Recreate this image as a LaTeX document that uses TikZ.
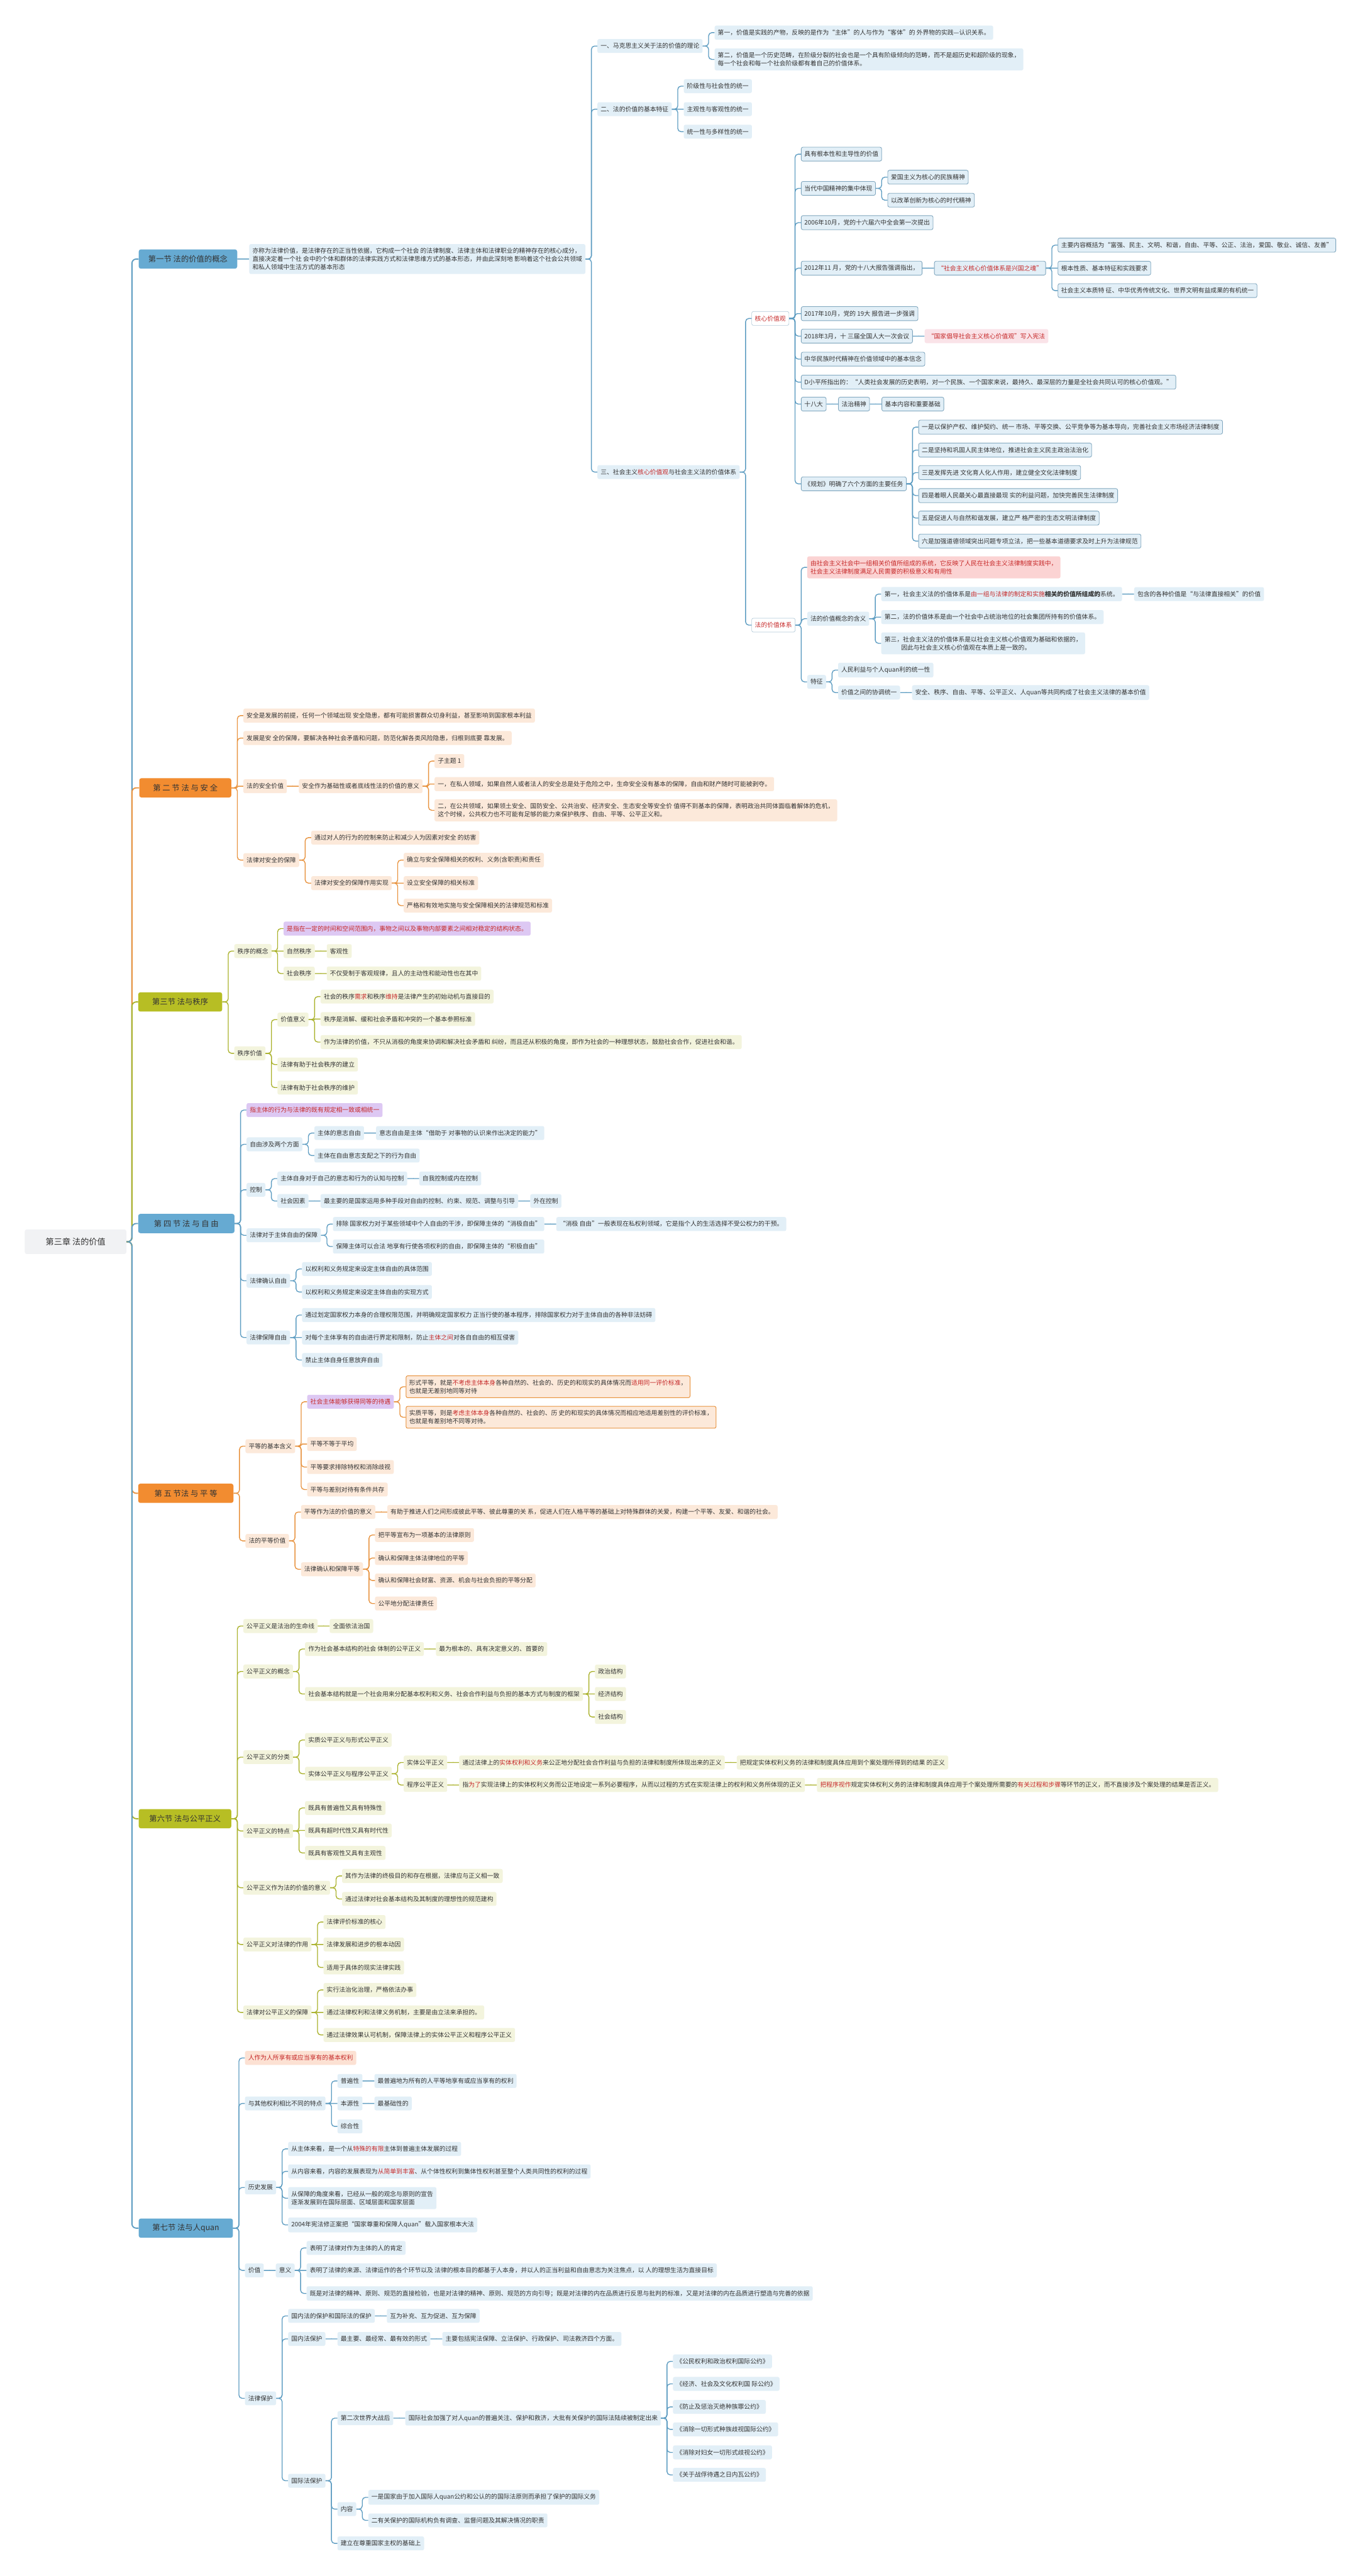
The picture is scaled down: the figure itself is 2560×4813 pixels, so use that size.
\documentclass[tikz,border=0pt]{standalone}
\usepackage{fontspec}
\setmainfont{Noto Sans CJK SC}
\usetikzlibrary{positioning,calc}
\definecolor{Ink}{HTML}{333333}
\definecolor{Alert}{HTML}{C62828}
\definecolor{SkyLine}{HTML}{5E9DC2}
\definecolor{SkyFill}{HTML}{E2EFF7}
\definecolor{SkyHead}{HTML}{66AAD2}
\definecolor{SkyRim}{HTML}{7FA6BE}
\definecolor{OrangeLine}{HTML}{E8933F}
\definecolor{OrangeFill}{HTML}{FCE9DA}
\definecolor{OrangeHead}{HTML}{F28C30}
\definecolor{GroveLine}{HTML}{AAB22C}
\definecolor{GroveFill}{HTML}{F3F4DD}
\definecolor{GroveHead}{HTML}{B7BE24}
\definecolor{Lilac}{HTML}{DDC8F3}
\definecolor{Blush}{HTML}{FBD3D3}
\definecolor{Peachy}{HTML}{FCE1D3}
\definecolor{PinkFill}{HTML}{FAE3E8}
\definecolor{RootFill}{HTML}{F1F2F4}
\newcommand\nfont{\fontsize{8.2pt}{10.67pt}\selectfont}
\newcommand\hfont{\fontsize{10.3pt}{12pt}\selectfont}
\newcommand\rfont{\fontsize{11pt}{13pt}\selectfont}
\newcommand\red[1]{\textcolor{Alert}{#1}}
% child node: style, parent, name, y, text
\newcommand\kid[5][skybox]{\node[#1,anchor=west,xshift=5.5mm] (#3) at (#2.east |- 0,#4) {#5};}
% elbow links from a parent to its children (straight when level)
\newcommand\lk[3]{\foreach \kidname in {#3}{\draw[branch,draw=#1] let \p1=(#2.east), \p2=(\kidname.west),
  \n1={min(1.5mm,abs(\y2-\y1)/2)+0.01pt} in [rounded corners=\n1] (\p1) -- ++(2.75mm,0) |- (\p2);}}
\tikzset{
  nbox/.style={rounded corners=0.8mm,inner xsep=1.5mm,inner ysep=1.9mm,
    minimum height=6.25mm,align=left,font=\nfont,text=Ink},
  skybox/.style={nbox,fill=SkyFill},
  skyrim/.style={nbox,fill=SkyFill,draw=SkyRim,line width=0.25mm},
  orangebox/.style={nbox,fill=OrangeFill},
  orangerim/.style={nbox,fill=OrangeFill,draw=OrangeLine,line width=0.3mm},
  grovebox/.style={nbox,fill=GroveFill},
  lilacbox/.style={nbox,fill=Lilac,text=Alert},
  blushbox/.style={nbox,fill=Blush,text=Alert},
  peachbox/.style={nbox,fill=Peachy,text=Alert},
  pinkbox/.style={nbox,fill=PinkFill,text=Alert},
  keybox/.style={nbox,fill=white,draw=SkyRim!60,line width=0.2mm,text=Alert},
  headbox/.style={rounded corners=1mm,minimum height=9mm,font=\hfont,text=Ink,
    inner xsep=2mm,anchor=west},
  rootbox/.style={rounded corners=1mm,minimum height=11.5mm,minimum width=47.5mm,
    font=\rfont,text=Ink,fill=RootFill,anchor=west},
  branch/.style={line width=0.4mm},
  trunk/.style={line width=0.55mm,rounded corners=2mm}
}
\begin{document}
\begin{tikzpicture}[x=0.25mm,y=-0.25mm]
\useasboundingbox (0,0) rectangle (2560,4813);
\fill[white] (0,0) rectangle (2560,4813);
\node[rootbox] (root) at (46,2320) {第三章 法的价值};
\node[headbox,fill=SkyHead,minimum width=46mm] (s1) at (259,484) {第一节 法的价值的概念};
\node[headbox,fill=OrangeHead,minimum width=43mm] (s2) at (260,1472) {第 二 节 法 与 安 全};
\node[headbox,fill=GroveHead,minimum width=39.25mm] (s3) at (258,1872) {第三节 法与秩序};
\node[headbox,fill=SkyHead,minimum width=45mm] (s4) at (258,2286) {第 四 节 法 与 自 由};
\node[headbox,fill=OrangeHead,minimum width=44.5mm] (s5) at (258,2790) {第 五 节法 与 平 等};
\node[headbox,fill=GroveHead,minimum width=43.25mm] (s6) at (259,3398) {第六节 法与公平正义};
\node[headbox,fill=SkyHead,minimum width=44mm] (s7) at (259,4163) {第七节 法与人quan};
\foreach \s/\c in {s1/SkyLine,s2/OrangeLine,s3/GroveLine,s4/SkyLine,s5/OrangeLine,s6/GroveLine,s7/SkyLine}
  \draw[trunk,draw=\c] (root.east) -- ++(2.5mm,0) |- (\s.west);

% section 1
\kid[skybox]{s1}{s1d}{484}{亦称为法律价值，是法律存在的正当性依据，它构成一个社会 的法律制度、法律主体和法律职业的精神存在的核心成分，\\直接决定着一个社 会中的个体和群体的法律实践方式和法律思维方式的基本形态，并由此深刻地 影响着这个社会公共领域\\和私人领域中生活方式的基本形态}
\kid[skybox]{s1d}{s1a}{86}{一、马克思主义关于法的价值的理论}
\kid[skybox]{s1d}{s1b}{204}{二、法的价值的基本特征}
\kid[skybox]{s1d}{s1c}{882}{三、社会主义\red{核心价值观}与社会主义法的价值体系}
\kid[skybox]{s1a}{s1a1}{61}{第一，价值是实践的产物，反映的是作为“主体”的人与作为“客体”的 外界物的实践—认识关系。}
\kid[skybox]{s1a}{s1a2}{111}{第二，价值是一个历史范畴，在阶级分裂的社会也是一个具有阶级倾向的范畴，而不是超历史和超阶级的现象，\\每一个社会和每一个社会阶级都有着自己的价值体系。}
\kid[skybox]{s1b}{s1b1}{161}{阶级性与社会性的统一}
\kid[skybox]{s1b}{s1b2}{204}{主观性与客观性的统一}
\kid[skybox]{s1b}{s1b3}{246}{统一性与多样性的统一}
\kid[keybox]{s1c}{core}{595}{核心价值观}
\kid[keybox]{s1c}{sys}{1168}{法的价值体系}
\kid[skyrim]{core}{c1}{288}{具有根本性和主导性的价值}
\kid[skyrim]{core}{c2}{352}{当代中国精神的集中体现}
\kid[skyrim]{c2}{c2a}{331}{爱国主义为核心的民族精神}
\kid[skyrim]{c2}{c2b}{374}{以改革创新为核心的时代精神}
\kid[skyrim]{core}{c3}{416}{2006年10月，党的十六届六中全会第一次提出}
\kid[skyrim]{core}{c4}{501}{2012年11 月，党的十八大报告强调指出，}
\kid[skyrim,text=Alert]{c4}{c4a}{501}{“社会主义核心价值体系是兴国之魂”}
\kid[skyrim]{c4a}{c4a1}{458}{主要内容概括为“富强、民主、文明、和谐，自由、平等、公正、法治，爱国、敬业、诚信、友善”}
\kid[skyrim]{c4a}{c4a2}{501}{根本性质、基本特征和实践要求}
\kid[skyrim]{c4a}{c4a3}{543}{社会主义本质特 征、中华优秀传统文化、世界文明有益成果的有机统一}
\kid[skyrim]{core}{c5}{586}{2017年10月，党的 19大 报告进一步强调}
\kid[skyrim]{core}{c6}{628}{2018年3月，十 三届全国人大一次会议}
\kid[pinkbox]{c6}{c6a}{628}{“国家倡导社会主义核心价值观”写入宪法}
\kid[skyrim]{core}{c7}{671}{中华民族时代精神在价值领域中的基本信念}
\kid[skyrim]{core}{c8}{714}{D小平所指出的：“人类社会发展的历史表明，对一个民族、一个国家来说，最持久、最深层的力量是全社会共同认可的核心价值观。”}
\kid[skyrim]{core}{c9}{755}{十八大}
\kid[skyrim]{c9}{c9a}{755}{法治精神}
\kid[skyrim]{c9a}{c9b}{755}{基本内容和重要基础}
\kid[skyrim]{core}{c10}{904}{《规划》明确了六个方面的主要任务}
\kid[skyrim]{c10}{c10a}{798}{一是以保护产权、维护契约、统一 市场、平等交换、公平竞争等为基本导向，完善社会主义市场经济法律制度}
\kid[skyrim]{c10}{c10b}{841}{二是坚持和巩固人民主体地位，推进社会主义民主政治法治化}
\kid[skyrim]{c10}{c10c}{883}{三是发挥先进 文化育人化人作用，建立健全文化法律制度}
\kid[skyrim]{c10}{c10d}{926}{四是着眼人民最关心最直接最现 实的利益问题，加快完善民生法律制度}
\kid[skyrim]{c10}{c10e}{968}{五是促进人与自然和谐发展，建立严 格严密的生态文明法律制度}
\kid[skyrim]{c10}{c10f}{1011}{六是加强道德领域突出问题专项立法，把一些基本道德要求及时上升为法律规范}
\kid[blushbox]{sys}{p1}{1060}{由社会主义社会中一组相关价值所组成的系统，它反映了人民在社会主义法律制度实践中，\\社会主义法律制度满足人民需要的积极意义和有用性}
\kid[skybox]{sys}{p2}{1156}{法的价值概念的含义}
\kid[skybox]{p2}{p2a}{1110}{第一，社会主义法的价值体系是\red{由一组与法律的制定和实施}\textbf{相关的价值所组成的}系统。}
\kid[skybox]{p2a}{p2a1}{1110}{包含的各种价值是“与法律直接相关”的价值}
\kid[skybox]{p2}{p2b}{1153}{第二，法的价值体系是由一个社会中占统治地位的社会集团所持有的价值体系。}
\kid[skybox]{p2}{p2c}{1202}{第三，社会主义法的价值体系是以社会主义核心价值观为基础和依据的，\\\hspace*{2.7em}因此与社会主义核心价值观在本质上是一致的。}
\kid[skybox]{sys}{p3}{1274}{特征}
\kid[skybox]{p3}{p3a}{1252}{人民利益与个人quan利的统一性}
\kid[skybox]{p3}{p3b}{1294}{价值之间的协调统一}
\kid[skybox]{p3b}{p3b1}{1294}{安全、秩序、自由、平等、公平正义、人quan等共同构成了社会主义法律的基本价值}
\lk{SkyLine}{s1}{s1d}
\lk{SkyLine}{s1d}{s1a,s1b,s1c}
\lk{SkyLine}{s1a}{s1a1,s1a2}
\lk{SkyLine}{s1b}{s1b1,s1b2,s1b3}
\lk{SkyLine}{s1c}{core,sys}
\lk{SkyLine}{core}{c1,c2,c3,c4,c5,c6,c7,c8,c9,c10}
\lk{SkyLine}{c2}{c2a,c2b}
\lk{SkyLine}{c4}{c4a}
\lk{SkyLine}{c4a}{c4a1,c4a2,c4a3}
\lk{SkyLine}{c6}{c6a}
\lk{SkyLine}{c9}{c9a}
\lk{SkyLine}{c9a}{c9b}
\lk{SkyLine}{c10}{c10a,c10b,c10c,c10d,c10e,c10f}
\lk{SkyLine}{sys}{p1,p2,p3}
\lk{SkyLine}{p2}{p2a,p2b,p2c}
\lk{SkyLine}{p2a}{p2a1}
\lk{SkyLine}{p3}{p3a,p3b}
\lk{SkyLine}{p3b}{p3b1}

% section 2
\kid[orangebox]{s2}{a1}{1337}{安全是发展的前提，任何一个领域出现 安全隐患，都有可能损害群众切身利益，甚至影响到国家根本利益}
\kid[orangebox]{s2}{a2}{1379}{发展是安 全的保障，要解决各种社会矛盾和问题，防范化解各类风险隐患，归根到底要 靠发展。}
\kid[orangebox]{s2}{a3}{1469}{法的安全价值}
\kid[orangebox]{a3}{a3a}{1469}{安全作为基础性或者底线性法的价值的意义}
\kid[orangebox]{a3a}{a3a1}{1422}{子主题 1}
\kid[orangebox]{a3a}{a3a2}{1465}{一，在私人领域，如果自然人或者法人的安全总是处于危险之中，生命安全没有基本的保障，自由和财产随时可能被剥夺。}
\kid[orangebox]{a3a}{a3a3}{1514}{二，在公共领域，如果领土安全、国防安全、公共治安、经济安全、生态安全等安全价 值得不到基本的保障，表明政治共同体面临着解体的危机，\\这个时候，公共权力也不可能有足够的能力来保护秩序、自由、平等、公平正义和。}
\kid[orangebox]{s2}{a4}{1607}{法律对安全的保障}
\kid[orangebox]{a4}{a4a}{1565}{通过对人的行为的控制来防止和减少人为因素对安全 的妨害}
\kid[orangebox]{a4}{a4b}{1650}{法律对安全的保障作用实现}
\kid[orangebox]{a4b}{a4b1}{1607}{确立与安全保障相关的权利、义务(含职责)和责任}
\kid[orangebox]{a4b}{a4b2}{1650}{设立安全保障的相关标准}
\kid[orangebox]{a4b}{a4b3}{1692}{严格和有效地实施与安全保障相关的法律规范和标准}
\lk{OrangeLine}{s2}{a1,a2,a3,a4}
\lk{OrangeLine}{a3}{a3a}
\lk{OrangeLine}{a3a}{a3a1,a3a2,a3a3}
\lk{OrangeLine}{a4}{a4a,a4b}
\lk{OrangeLine}{a4b}{a4b1,a4b2,a4b3}

% section 3
\kid[grovebox]{s3}{q1}{1777}{秩序的概念}
\kid[lilacbox]{q1}{q1a}{1735}{是指在一定的时间和空间范围内，事物之间以及事物内部要素之间相对稳定的结构状态。}
\kid[grovebox]{q1}{q1b}{1777}{自然秩序}
\kid[grovebox]{q1b}{q1b1}{1777}{客观性}
\kid[grovebox]{q1}{q1c}{1819}{社会秩序}
\kid[grovebox]{q1c}{q1c1}{1819}{不仅受制于客观规律，且人的主动性和能动性也在其中}
\kid[grovebox]{s3}{q2}{1968}{秩序价值}
\kid[grovebox]{q2}{q2a}{1905}{价值意义}
\kid[grovebox]{q2a}{q2a1}{1862}{社会的秩序\red{需求}和秩序\red{维持}是法律产生的初始动机与直接目的}
\kid[grovebox]{q2a}{q2a2}{1904}{秩序是消解、缓和社会矛盾和冲突的一个基本参照标准}
\kid[grovebox]{q2a}{q2a3}{1947}{作为法律的价值，不只从消极的角度来协调和解决社会矛盾和 纠纷，而且还从积极的角度，即作为社会的一种理想状态，鼓励社会合作，促进社会和谐。}
\kid[grovebox]{q2}{q2b}{1989}{法律有助于社会秩序的建立}
\kid[grovebox]{q2}{q2c}{2032}{法律有助于社会秩序的维护}
\lk{GroveLine}{s3}{q1,q2}
\lk{GroveLine}{q1}{q1a,q1b,q1c}
\lk{GroveLine}{q1b}{q1b1}
\lk{GroveLine}{q1c}{q1c1}
\lk{GroveLine}{q2}{q2a,q2b,q2c}
\lk{GroveLine}{q2a}{q2a1,q2a2,q2a3}

% section 4
\kid[lilacbox]{s4}{f1}{2074}{指主体的行为与法律的既有规定相一致或相统一}
\kid[skybox]{s4}{f2}{2138}{自由涉及两个方面}
\kid[skybox]{f2}{f2a}{2117}{主体的意志自由}
\kid[skybox]{f2a}{f2a1}{2117}{意志自由是主体“借助于 对事物的认识来作出决定的能力”}
\kid[skybox]{f2}{f2b}{2159}{主体在自由意志支配之下的行为自由}
\kid[skybox]{s4}{f3}{2223}{控制}
\kid[skybox]{f3}{f3a}{2202}{主体自身对于自己的意志和行为的认知与控制}
\kid[skybox]{f3a}{f3a1}{2202}{自我控制或内在控制}
\kid[skybox]{f3}{f3b}{2244}{社会因素}
\kid[skybox]{f3b}{f3b1}{2244}{最主要的是国家运用多种手段对自由的控制、约束、规范、调整与引导}
\kid[skybox]{f3b1}{f3b2}{2244}{外在控制}
\kid[skybox]{s4}{f4}{2308}{法律对于主体自由的保障}
\kid[skybox]{f4}{f4a}{2287}{排除 国家权力对于某些领域中个人自由的干涉，即保障主体的“消极自由”}
\kid[skybox]{f4a}{f4a1}{2287}{“消极 自由”一般表现在私权利领域，它是指个人的生活选择不受公权力的干预。}
\kid[skybox]{f4}{f4b}{2329}{保障主体可以合法 地享有行使各项权利的自由，即保障主体的“积极自由”}
\kid[skybox]{s4}{f5}{2393}{法律确认自由}
\kid[skybox]{f5}{f5a}{2371}{以权利和义务规定来设定主体自由的具体范围}
\kid[skybox]{f5}{f5b}{2414}{以权利和义务规定来设定主体自由的实现方式}
\kid[skybox]{s4}{f6}{2499}{法律保障自由}
\kid[skybox]{f6}{f6a}{2457}{通过划定国家权力本身的合理权限范围，并明确规定国家权力 正当行使的基本程序，排除国家权力对于主体自由的各种非法妨碍}
\kid[skybox]{f6}{f6b}{2499}{对每个主体享有的自由进行界定和限制，防止\red{主体之间}对各自自由的相互侵害}
\kid[skybox]{f6}{f6c}{2541}{禁止主体自身任意放弃自由}
\lk{SkyLine}{s4}{f1,f2,f3,f4,f5,f6}
\lk{SkyLine}{f2}{f2a,f2b}
\lk{SkyLine}{f2a}{f2a1}
\lk{SkyLine}{f3}{f3a,f3b}
\lk{SkyLine}{f3a}{f3a1}
\lk{SkyLine}{f3b}{f3b1}
\lk{SkyLine}{f3b1}{f3b2}
\lk{SkyLine}{f4}{f4a,f4b}
\lk{SkyLine}{f4a}{f4a1}
\lk{SkyLine}{f5}{f5a,f5b}
\lk{SkyLine}{f6}{f6a,f6b,f6c}

% section 5
\kid[orangebox]{s5}{e1}{2702}{平等的基本含义}
\kid[lilacbox]{e1}{e1a}{2619}{社会主体能够获得同等的待遇}
\kid[orangerim]{e1a}{e1a1}{2591}{形式平等，就是\red{不考虑主体本身}各种自然的、社会的、历史的和现实的具体情况而\red{适用同一评价标准}，\\也就是无差别地同等对待}
\kid[orangerim]{e1a}{e1a2}{2648}{实质平等，则是\red{考虑主体本身}各种自然的、社会的、历 史的和现实的具体情况而相应地适用差别性的评价标准，\\也就是有差别地不同等对待。}
\kid[orangebox]{e1}{e1b}{2698}{平等不等于平均}
\kid[orangebox]{e1}{e1c}{2741}{平等要求排除特权和消除歧视}
\kid[orangebox]{e1}{e1d}{2783}{平等与差别对待有条件共存}
\kid[orangebox]{s5}{e2}{2879}{法的平等价值}
\kid[orangebox]{e2}{e2a}{2825}{平等作为法的价值的意义}
\kid[orangebox]{e2a}{e2a1}{2825}{有助于推进人们之间形成彼此平等、彼此尊重的关 系，促进人们在人格平等的基础上对特殊群体的关爱，构建一个平等、友爱、和谐的社会。}
\kid[orangebox]{e2}{e2b}{2932}{法律确认和保障平等}
\kid[orangebox]{e2b}{e2b1}{2868}{把平等宣布为一项基本的法律原则}
\kid[orangebox]{e2b}{e2b2}{2911}{确认和保障主体法律地位的平等}
\kid[orangebox]{e2b}{e2b3}{2953}{确认和保障社会财富、资源、机会与社会负担的平等分配}
\kid[orangebox]{e2b}{e2b4}{2996}{公平地分配法律责任}
\lk{OrangeLine}{s5}{e1,e2}
\lk{OrangeLine}{e1}{e1a,e1b,e1c,e1d}
\lk{OrangeLine}{e1a}{e1a1,e1a2}
\lk{OrangeLine}{e2}{e2a,e2b}
\lk{OrangeLine}{e2a}{e2a1}
\lk{OrangeLine}{e2b}{e2b1,e2b2,e2b3,e2b4}

% section 6
\kid[grovebox]{s6}{j1}{3038}{公平正义是法治的生命线}
\kid[grovebox]{j1}{j1a}{3038}{全面依法治国}
\kid[grovebox]{s6}{j2}{3123}{公平正义的概念}
\kid[grovebox]{j2}{j2a}{3081}{作为社会基本结构的社会 体制的公平正义}
\kid[grovebox]{j2a}{j2a1}{3081}{最为根本的、具有决定意义的、首要的}
\kid[grovebox]{j2}{j2b}{3165}{社会基本结构就是一个社会用来分配基本权利和义务、社会合作利益与负担的基本方式与制度的框架}
\kid[grovebox]{j2b}{j2b1}{3123}{政治结构}
\kid[grovebox]{j2b}{j2b2}{3165}{经济结构}
\kid[grovebox]{j2b}{j2b3}{3208}{社会结构}
\kid[grovebox]{s6}{j3}{3283}{公平正义的分类}
\kid[grovebox]{j3}{j3a}{3251}{实质公平正义与形式公平正义}
\kid[grovebox]{j3}{j3b}{3314}{实体公平正义与程序公平正义}
\kid[grovebox]{j3b}{j3b1}{3293}{实体公平正义}
\kid[grovebox]{j3b1}{j3b1a}{3293}{通过法律上的\red{实体权利和义务}来公正地分配社会合作利益与负担的法律和制度所体现出来的正义}
\kid[grovebox]{j3b1a}{j3b1b}{3293}{把规定实体权利义务的法律和制度具体应用到个案处理所得到的结果 的正义}
\kid[grovebox]{j3b}{j3b2}{3335}{程序公平正义}
\kid[grovebox]{j3b2}{j3b2a}{3335}{指\red{为了}实现法律上的实体权利义务而公正地设定一系列必要程序，从而以过程的方式在实现法律上的权利和义务所体现的正义}
\kid[grovebox]{j3b2a}{j3b2b}{3335}{\red{把程序视作}规定实体权利义务的法律和制度具体应用于个案处理所需要的\red{有关过程和步骤}等环节的正义，而不直接涉及个案处理的结果是否正义。}
\kid[grovebox]{s6}{j4}{3421}{公平正义的特点}
\kid[grovebox]{j4}{j4a}{3378}{既具有普遍性又具有特殊性}
\kid[grovebox]{j4}{j4b}{3420}{既具有超时代性又具有时代性}
\kid[grovebox]{j4}{j4c}{3462}{既具有客观性又具有主观性}
\kid[grovebox]{s6}{j5}{3527}{公平正义作为法的价值的意义}
\kid[grovebox]{j5}{j5a}{3505}{其作为法律的终极目的和存在根据，法律应与正义相一致}
\kid[grovebox]{j5}{j5b}{3548}{通过法律对社会基本结构及其制度的理想性的规范建构}
\kid[grovebox]{s6}{j6}{3633}{公平正义对法律的作用}
\kid[grovebox]{j6}{j6a}{3591}{法律评价标准的核心}
\kid[grovebox]{j6}{j6b}{3633}{法律发展和进步的根本动因}
\kid[grovebox]{j6}{j6c}{3676}{适用于具体的现实法律实践}
\kid[grovebox]{s6}{j7}{3760}{法律对公平正义的保障}
\kid[grovebox]{j7}{j7a}{3718}{实行法治化治理，严格依法办事}
\kid[grovebox]{j7}{j7b}{3760}{通过法律权利和法律义务机制，主要是由立法来承担的。}
\kid[grovebox]{j7}{j7c}{3802}{通过法律效果认可机制，保障法律上的实体公平正义和程序公平正义}
\lk{GroveLine}{s6}{j1,j2,j3,j4,j5,j6,j7}
\lk{GroveLine}{j1}{j1a}
\lk{GroveLine}{j2}{j2a,j2b}
\lk{GroveLine}{j2a}{j2a1}
\lk{GroveLine}{j2b}{j2b1,j2b2,j2b3}
\lk{GroveLine}{j3}{j3a,j3b}
\lk{GroveLine}{j3b}{j3b1,j3b2}
\lk{GroveLine}{j3b1}{j3b1a}
\lk{GroveLine}{j3b1a}{j3b1b}
\lk{GroveLine}{j3b2}{j3b2a}
\lk{GroveLine}{j3b2a}{j3b2b}
\lk{GroveLine}{j4}{j4a,j4b,j4c}
\lk{GroveLine}{j5}{j5a,j5b}
\lk{GroveLine}{j6}{j6a,j6b,j6c}
\lk{GroveLine}{j7}{j7a,j7b,j7c}

% section 7
\kid[peachbox]{s7}{h1}{3845}{人作为人所享有或应当享有的基本权利}
\kid[skybox]{s7}{h2}{3930}{与其他权利相比不同的特点}
\kid[skybox]{h2}{h2a}{3888}{普遍性}
\kid[skybox]{h2a}{h2a1}{3888}{最普遍地为所有的人平等地享有或应当享有的权利}
\kid[skybox]{h2}{h2b}{3930}{本源性}
\kid[skybox]{h2b}{h2b1}{3930}{最基础性的}
\kid[skybox]{h2}{h2c}{3973}{综合性}
\kid[skybox]{s7}{h3}{4087}{历史发展}
\kid[skybox]{h3}{h3a}{4015}{从主体来看，是一个从\red{特殊的有限}主体到普遍主体发展的过程}
\kid[skybox]{h3}{h3b}{4057}{从内容来看，内容的发展表现为\red{从简单到丰富}、从个体性权利到集体性权利甚至整个人类共同性的权利的过程}
\kid[skybox]{h3}{h3c}{4107}{从保障的角度来看，已经从一般的观念与原则的宣告\\逐渐发展到在国际层面、区域层面和国家层面}
\kid[skybox]{h3}{h3d}{4157}{2004年宪法修正案把“国家尊重和保障人quan”载入国家根本大法}
\kid[skybox]{s7}{h4}{4242}{价值}
\kid[skybox]{h4}{h4a}{4242}{意义}
\kid[skybox]{h4a}{h4a1}{4200}{表明了法律对作为主体的人的肯定}
\kid[skybox]{h4a}{h4a2}{4242}{表明了法律的来源、法律运作的各个环节以及 法律的根本目的都基于人本身，并以人的正当利益和自由意志为关注焦点，以 人的理想生活为直接目标}
\kid[skybox]{h4a}{h4a3}{4285}{既是对法律的精神、原则、规范的直接检验，也是对法律的精神、原则、规范的方向引导；既是对法律的内在品质进行反思与批判的标准，又是对法律的内在品质进行塑造与完善的依据}
\kid[skybox]{s7}{h5}{4481}{法律保护}
\kid[skybox]{h5}{h5a}{4327}{国内法的保护和国际法的保护}
\kid[skybox]{h5a}{h5a1}{4327}{互为补充、互为促进、互为保障}
\kid[skybox]{h5}{h5b}{4370}{国内法保护}
\kid[skybox]{h5b}{h5b1}{4370}{最主要、最经常、最有效的形式}
\kid[skybox]{h5b1}{h5b2}{4370}{主要包括宪法保障、立法保护、行政保护、司法救济四个方面。}
\kid[skybox]{h5}{h5c}{4635}{国际法保护}
\kid[skybox]{h5c}{h5c1}{4518}{第二次世界大战后}
\kid[skybox]{h5c1}{h5c1a}{4518}{国际社会加强了对人quan的普遍关注、保护和救济，大批有关保护的国际法陆续被制定出来}
\kid[skybox]{h5c1a}{t1}{4412}{《公民权利和政治权利国际公约》}
\kid[skybox]{h5c1a}{t2}{4454}{《经济、社会及文化权利国 际公约》}
\kid[skybox]{h5c1a}{t3}{4497}{《防止及惩治灭绝种族罪公约》}
\kid[skybox]{h5c1a}{t4}{4539}{《消除一切形式种族歧视国际公约》}
\kid[skybox]{h5c1a}{t5}{4582}{《消除对妇女一切形式歧视公约》}
\kid[skybox]{h5c1a}{t6}{4624}{《关于战俘待遇之日内瓦公约》}
\kid[skybox]{h5c}{h5c2}{4688}{内容}
\kid[skybox]{h5c2}{h5c2a}{4666}{一是国家由于加入国际人quan公约和公认的的国际法原则而承担了保护的国际义务}
\kid[skybox]{h5c2}{h5c2b}{4709}{二有关保护的国际机构负有调查、监督问题及其解决情况的职责}
\kid[skybox]{h5c}{h5c3}{4752}{建立在尊重国家主权的基础上}
\lk{SkyLine}{s7}{h1,h2,h3,h4,h5}
\lk{SkyLine}{h2}{h2a,h2b,h2c}
\lk{SkyLine}{h2a}{h2a1}
\lk{SkyLine}{h2b}{h2b1}
\lk{SkyLine}{h3}{h3a,h3b,h3c,h3d}
\lk{SkyLine}{h4}{h4a}
\lk{SkyLine}{h4a}{h4a1,h4a2,h4a3}
\lk{SkyLine}{h5}{h5a,h5b,h5c}
\lk{SkyLine}{h5a}{h5a1}
\lk{SkyLine}{h5b}{h5b1}
\lk{SkyLine}{h5b1}{h5b2}
\lk{SkyLine}{h5c}{h5c1,h5c2,h5c3}
\lk{SkyLine}{h5c1}{h5c1a}
\lk{SkyLine}{h5c1a}{t1,t2,t3,t4,t5,t6}
\lk{SkyLine}{h5c2}{h5c2a,h5c2b}
\end{tikzpicture}
\end{document}
